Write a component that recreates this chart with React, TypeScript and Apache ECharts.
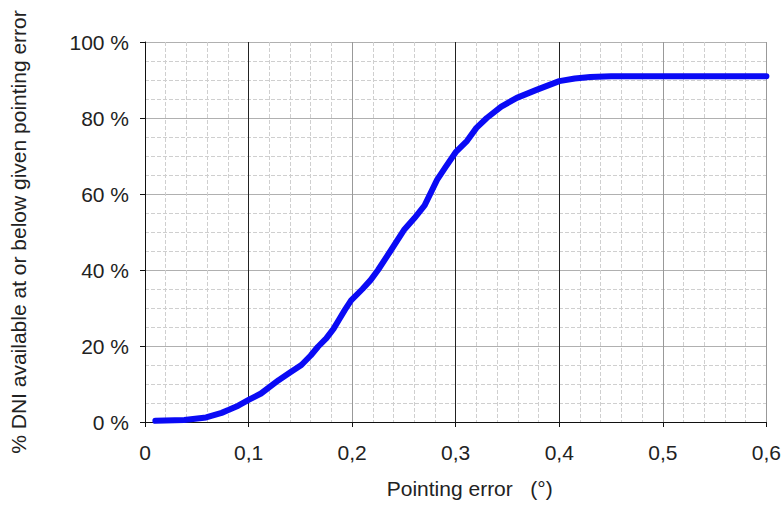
import React, { useEffect, useRef } from "react";
import * as echarts from "echarts";

const errorDeg: number[] = [0.01, 0.038, 0.059, 0.074, 0.081, 0.09, 0.1, 0.112, 0.129, 0.14, 0.151, 0.16, 0.167, 0.175, 0.182, 0.187, 0.193, 0.199, 0.21, 0.218, 0.225, 0.237, 0.25, 0.26, 0.27, 0.282, 0.29, 0.3, 0.311, 0.32, 0.33, 0.344, 0.359, 0.378, 0.4, 0.415, 0.43, 0.45, 0.5, 0.55, 0.6];
const dniPct: number[] = [0.3, 0.5, 1.2, 2.4, 3.2, 4.3, 5.8, 7.5, 11, 13, 15, 17.5, 19.8, 22, 24.5, 26.8, 29.5, 32, 35, 37.4, 40, 45, 50.5, 53.6, 57, 63.7, 67, 71, 74, 77.4, 80, 83, 85.3, 87.4, 89.7, 90.4, 90.8, 91, 91, 91, 91];

const xTitle = "Pointing error   (°)";
const yTitle = "% DNI available at or below given pointing error";

export default function App() {
  const ref = useRef<HTMLDivElement>(null);
  useEffect(() => {
    if (!ref.current) return;
    const chart = echarts.init(ref.current, null, { renderer: "svg" });
    const font = "'Liberation Sans', Arial, sans-serif";
    chart.setOption({
      animation: false,
      backgroundColor: "#ffffff",
      grid: { left: 145, right: 12, top: 42, bottom: 83, containLabel: false },
      xAxis: {
        type: "value",
        min: 0,
        max: 0.6,
        interval: 0.1,
        name: xTitle,
        nameLocation: "middle",
        nameGap: 56,
        nameTextStyle: { fontFamily: font, fontSize: 21, color: "#222", padding: [0, 0, 0, 28] },
        axisLine: { show: true, onZero: false, lineStyle: { color: "#111", width: 1 } },
        axisTick: { show: true, length: 5, lineStyle: { color: "#111" } },
        axisLabel: {
          margin: 20,
          fontFamily: font,
          fontSize: 21,
          color: "#222",
          formatter: (v: number) => (v === 0 ? "0" : v.toFixed(1).replace(".", ",")),
        },
        splitLine: {
          show: true,
          lineStyle: { color: ["#222", "#222", "#999", "#222", "#222", "#999", "#999"], width: 1 },
        },
        minorTick: { show: false, splitNumber: 5 },
        minorSplitLine: { show: true, lineStyle: { color: "#cfcfcf", type: "dashed", width: 1 } },
      },
      yAxis: {
        type: "value",
        min: 0,
        max: 100,
        interval: 20,
        name: yTitle,
        nameLocation: "middle",
        nameGap: 116,
        nameRotate: 90,
        nameTextStyle: { fontFamily: font, fontSize: 21, color: "#222" },
        axisLine: { show: true, lineStyle: { color: "#111", width: 1 } },
        axisTick: { show: true, length: 5, lineStyle: { color: "#111" } },
        axisLabel: { margin: 16, fontFamily: font, fontSize: 21, color: "#222", formatter: "{value} %" },
        splitLine: { show: true, lineStyle: { color: "#b0b0b0", width: 1 } },
        minorTick: { show: false, splitNumber: 4 },
        minorSplitLine: { show: true, lineStyle: { color: "#cfcfcf", type: "dashed", width: 1 } },
      },
      series: [
        {
          type: "line",
          data: errorDeg.map((x, i) => [x, dniPct[i]]),
          showSymbol: false,
          smooth: false,
          lineStyle: { color: "#0a0af5", width: 6, cap: "round", join: "round" },
        },
      ],
    });
    return () => chart.dispose();
  }, []);
  return <div ref={ref} style={{ position: "fixed", left: 0, top: 0, width: 784, height: 505 }} />;
}
